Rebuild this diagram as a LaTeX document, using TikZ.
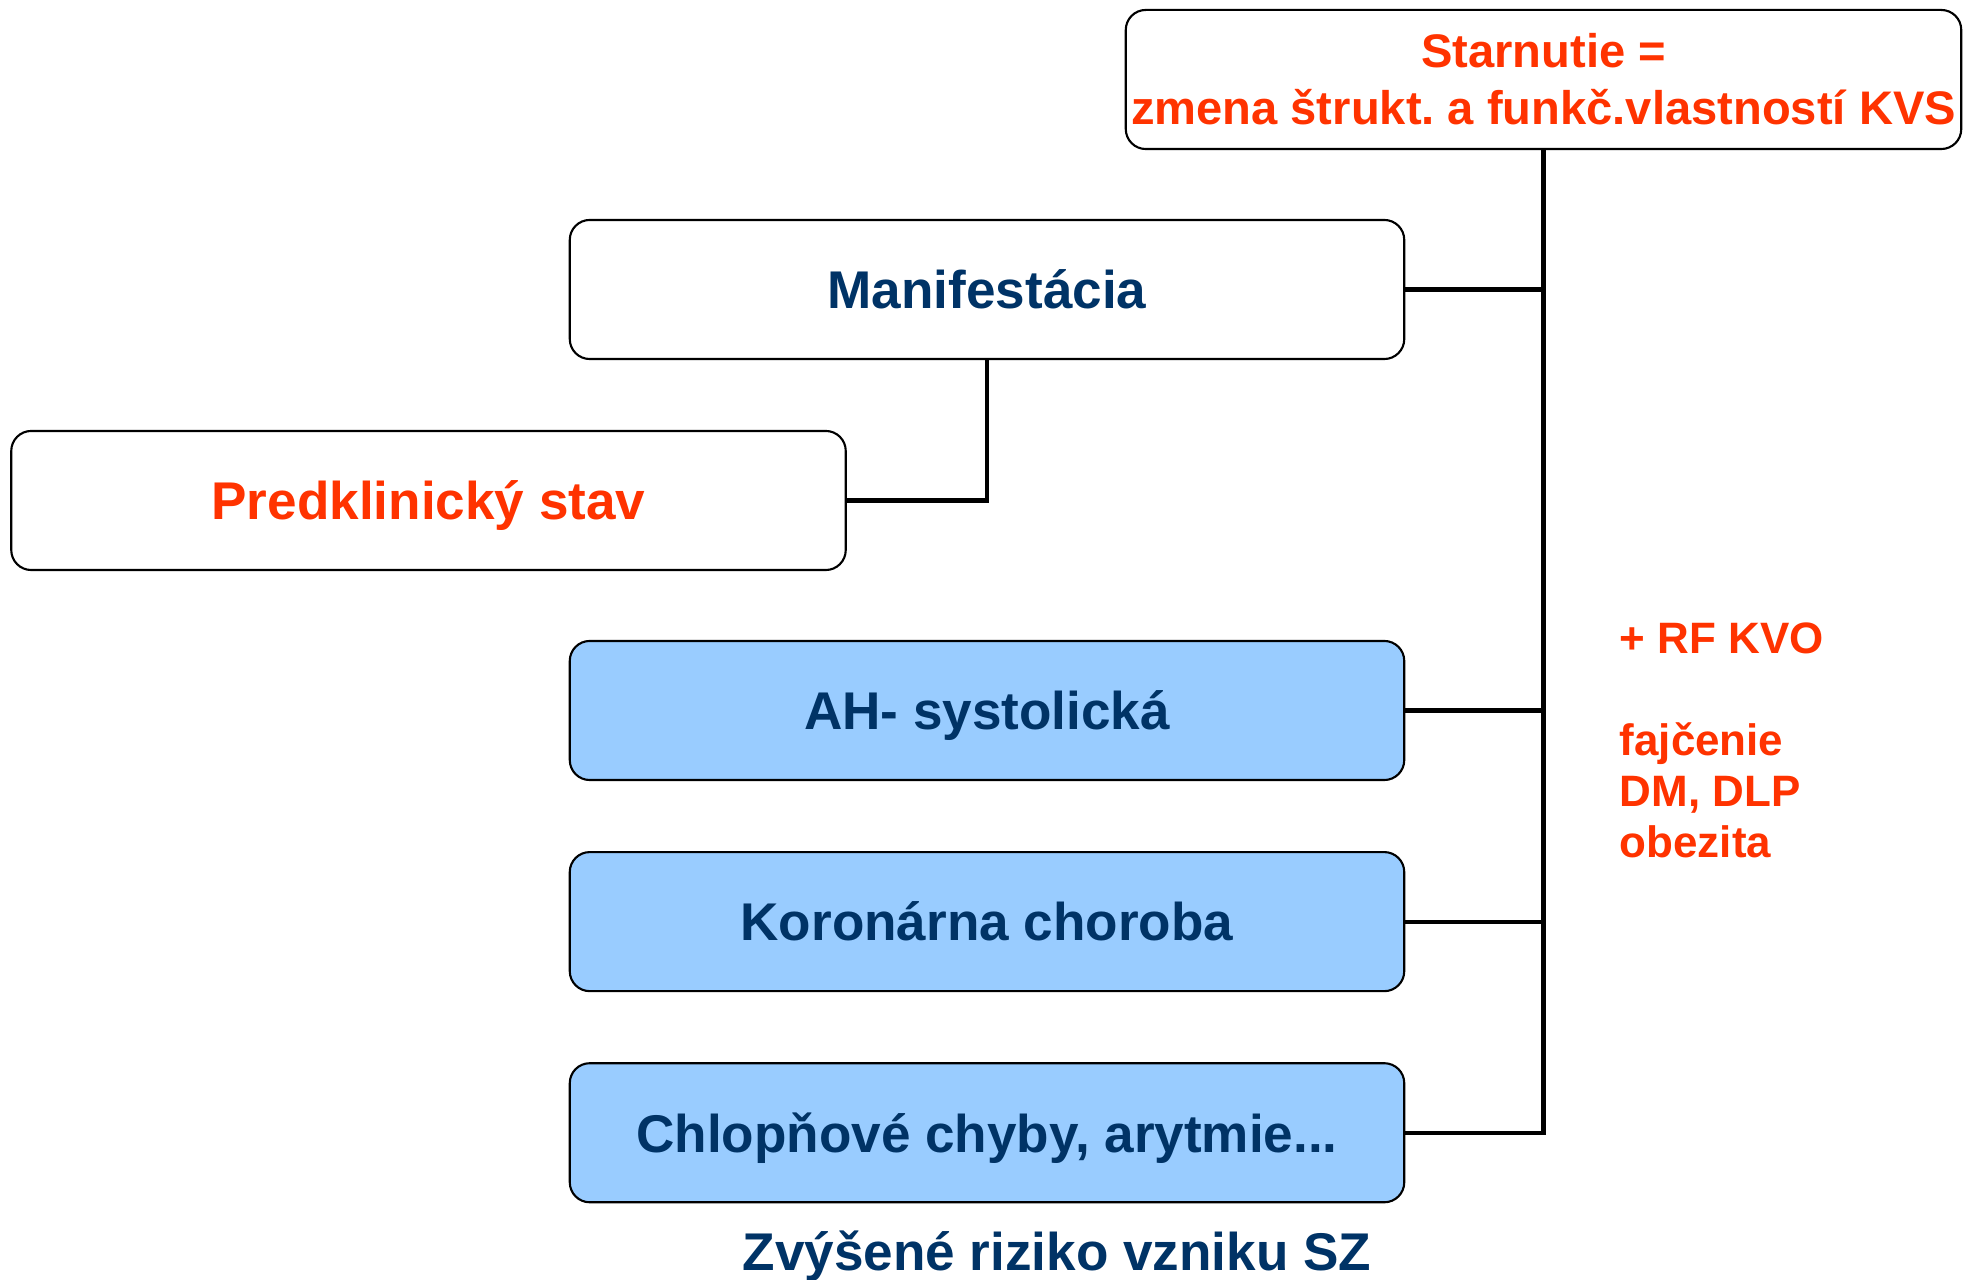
\documentclass[tikz,border=0pt]{standalone}
\usepackage{fontspec}
\setmainfont{Liberation Sans}
\usetikzlibrary{positioning}
\definecolor{redtext}{HTML}{FF3300}
\definecolor{bluetext}{HTML}{003366}
\definecolor{bluefill}{HTML}{99CCFF}
\tikzset{
  box/.style={draw, rounded corners=0.2cm, line width=0.6pt, minimum width=8.34cm, minimum height=1.39cm,
    inner sep=0pt, outer sep=0pt, align=center, font=\bfseries\fontsize{15.1}{18}\selectfont},
  oneline/.style={box, text height=13.6pt, text depth=2.6pt},
  disease/.style={oneline, fill=bluefill, text=bluetext},
  link/.style={line width=1.2pt}
}

\begin{document}
\frenchspacing
\begin{tikzpicture}[x=0.01cm, y=-0.01cm]
				\useasboundingbox (0,0) rectangle (1980,1280);
				% Center
				\node[box, minimum width=8.35cm, text=redtext, font=\bfseries\fontsize{13.4}{16.2}\selectfont] (Starnutie) at (1543.5,79.5) {Starnutie =\\zmena štrukt. a funkč.vlastností KVS} ;
				\node[oneline, text=bluetext] (Manifestacia) at (987,289.5) {Manifestácia} ;
				\node[oneline, text=redtext] (Predklinicky) at (428.5,500.5) {Predklinický stav} ;
				\node[disease] (AH) at (987,710.5) {AH- systolická} ;
				\node[disease, below=0.72cm of AH] (Koronarna) {Koronárna choroba} ;
				\node[disease, below=0.72cm of Koronarna] (Chlopnove) {Chlopňové chyby, arytmie...} ;
				
				% Labels
				\node[anchor=base, text=bluetext, font=\bfseries\fontsize{15.1}{18}\selectfont] (Riziko) at (1057,1270) {Zvýšené riziko vzniku SZ} ;
				\node[anchor=west, align=left, inner sep=0pt, text=redtext, font=\bfseries\fontsize{12.5}{14.5}\selectfont] (RF) at (1619,740) {+ RF KVO\\[14.5pt]fajčenie\\DM, DLP\\obezita} ;
				
				% Links
				\draw[link] (Starnutie.south) -- (Starnutie.south |- Chlopnove.east) -- (Chlopnove.east) ;
				\foreach \n in {Manifestacia, AH, Koronarna}
					\draw[link] (\n.east) -- (\n.east -| Starnutie.south) ;
				\draw[link] (Manifestacia.south) |- (Predklinicky.east) ;
			\end{tikzpicture}
\end{document}
